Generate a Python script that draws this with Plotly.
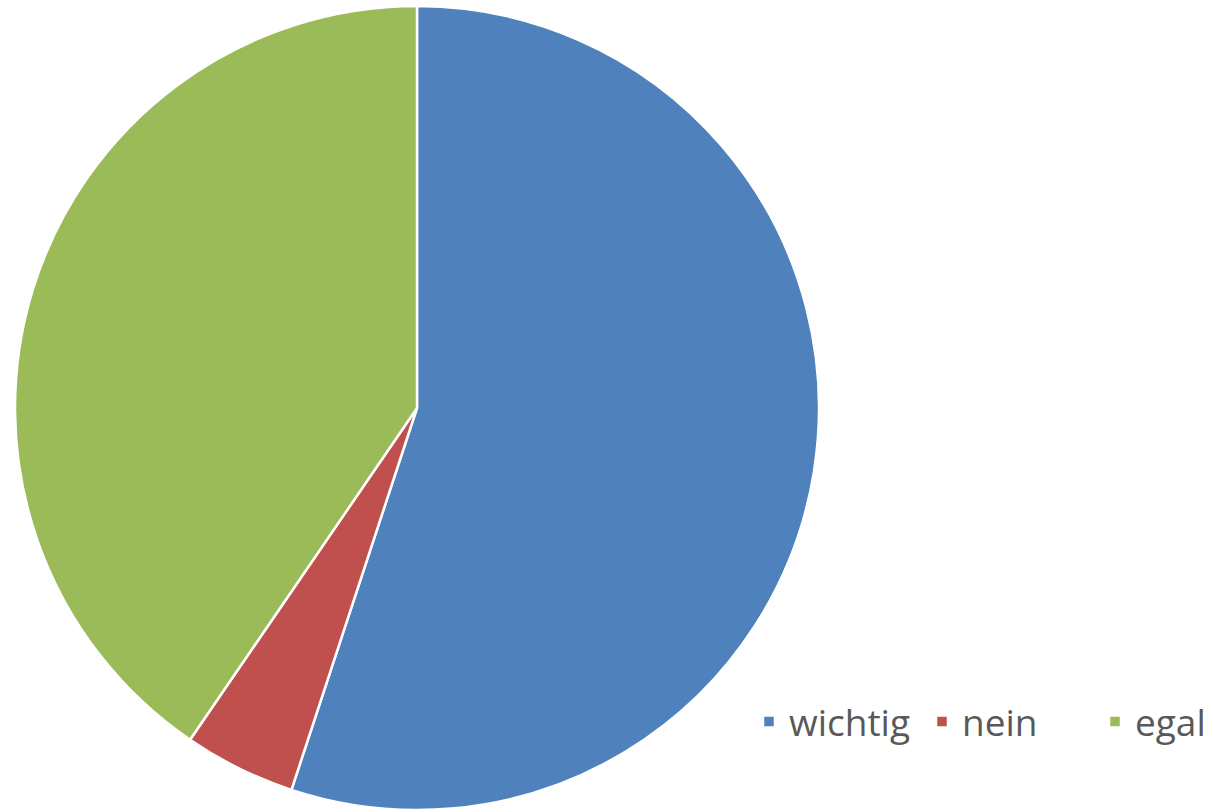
import plotly.graph_objects as go

labels = ["wichtig", "nein", "egal"]
values = [49, 4, 36]
colors = ["#4F81BD", "#C0504D", "#9BBB59"]

W, H = 1213, 812
cx, cy, r = 417, 408, 402

fig = go.Figure(go.Pie(
    labels=labels,
    values=values,
    sort=False,
    direction="clockwise",
    rotation=0,
    textinfo="none",
    hoverinfo="label+percent",
    marker=dict(colors=colors, line=dict(color="white", width=2.5)),
    domain=dict(x=[(cx - r) / W, (cx + r) / W], y=[(H - cy - r) / H, (H - cy + r) / H]),
))

fig.update_layout(
    width=W, height=H,
    margin=dict(l=0, r=0, t=0, b=0, autoexpand=False),
    paper_bgcolor="white",
    plot_bgcolor="white",
    showlegend=True,
    legend=dict(
        orientation="h",
        x=749 / W, xanchor="left",
        y=(H - 722) / H, yanchor="middle",
        font=dict(family="Open Sans", size=37, color="#595959"),
        bgcolor="rgba(0,0,0,0)",
        itemclick=False,
        entrywidth=128,
        entrywidthmode="pixels",
    ),
)

fig.write_html("out.html", config={"displayModeBar": False},
               post_script="document.body.style.margin='0';document.body.style.overflow='hidden';")
